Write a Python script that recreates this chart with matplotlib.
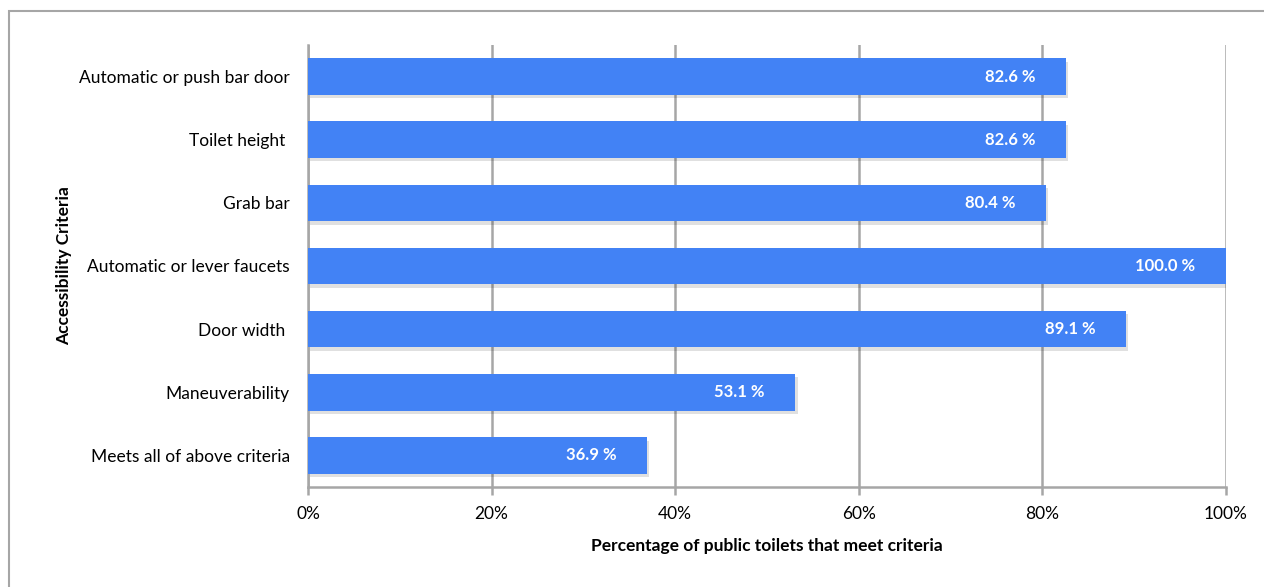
import matplotlib.pyplot as plt
import matplotlib.patheffects as pe
from matplotlib.patches import Rectangle
from matplotlib.ticker import PercentFormatter

criteria = [
    "Automatic or push bar door",
    "Toilet height ",
    "Grab bar",
    "Automatic or lever faucets",
    "Door width ",
    "Maneuverability",
    "Meets all of above criteria",
]
percent_met = [82.6, 82.6, 80.4, 100.0, 89.1, 53.1, 36.9]

BAR_COLOR = "#4282F5"
GRID_COLOR = "#A6A6A6"

plt.rcParams["font.family"] = ["Lato", "DejaVu Sans"]

fig = plt.figure(figsize=(12.64, 5.87), dpi=100)
ax = fig.add_axes([308 / 1264, 1 - 487 / 587, 918 / 1264, 442 / 587])

# outer frame, open on the right and bottom
fig.patches.append(Rectangle((9 / 1264, -0.1), 1.2, 1.1 - 11 / 587,
                             transform=fig.transFigure, fill=False,
                             edgecolor=GRID_COLOR, linewidth=1.5))

ypos = list(range(len(criteria)))
bars = ax.barh(ypos, percent_met, height=0.58, color=BAR_COLOR, zorder=3)
for b in bars:
    b.set_path_effects([pe.SimplePatchShadow(offset=(1.5, -2.5), shadow_rgbFace="#000000", alpha=0.12),
                        pe.Normal()])

for y, v in zip(ypos, percent_met):
    ax.annotate(f"{v:.1f} %", xy=(v, y), xytext=(-22, 0), textcoords="offset points",
                ha="right", va="center", color="white", fontsize=12,
                fontweight="bold", zorder=4)

ax.set_xlim(0, 100)
ax.set_ylim(len(criteria) - 0.5, -0.5)
ax.set_xticks([0, 20, 40, 60, 80, 100])
ax.xaxis.set_major_formatter(PercentFormatter(decimals=0))
ax.set_yticks(ypos)
ax.set_yticklabels(criteria)

ax.grid(axis="x", color=GRID_COLOR, linewidth=1.8, zorder=0)
for side in ("top", "right"):
    ax.spines[side].set_visible(False)
for side in ("left", "bottom"):
    ax.spines[side].set_color(GRID_COLOR)
    ax.spines[side].set_linewidth(1.8)

ax.tick_params(axis="x", direction="out", length=6, width=1.8, color=GRID_COLOR,
               labelsize=12.5, pad=8)
ax.tick_params(axis="y", length=0, labelsize=12.5, pad=13)

ax.set_xlabel("Percentage of public toilets that meet criteria", fontsize=12.5,
              fontweight="bold", labelpad=11)
ax.set_ylabel("Accessibility Criteria", fontsize=12.5, fontweight="bold")
ax.yaxis.set_label_coords(-236 / 918, 0.5)

fig.savefig("out.png", dpi=100)
